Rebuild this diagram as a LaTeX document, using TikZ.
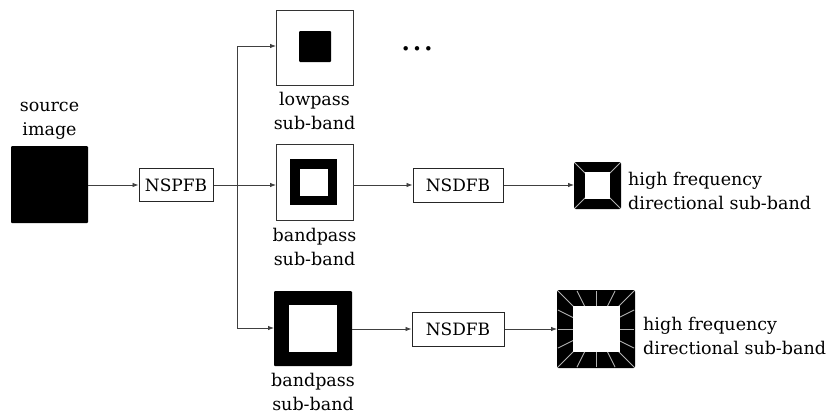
\documentclass[tikz,border=0pt]{standalone}
\usepackage{fontspec}
\setmainfont{DejaVu Serif}
\usetikzlibrary{arrows.meta}
\begin{document}
\begin{tikzpicture}[x=1pt,y=1pt,
  lbl/.style={font=\fontsize{17.5}{23.5}\selectfont, align=center, inner sep=0pt},
  fbox/.style={draw=black!85, line width=1pt, fill=white, minimum height=33pt, font=\fontsize{17}{23}\selectfont, inner sep=0pt},
  arr/.style={draw=black!75, line width=0.8pt, -{Latex[length=6pt,width=4.5pt]}},
  ln/.style={draw=black!75, line width=0.8pt},
  ray/.style={draw=black!30, line width=0.9pt, shorten >=1pt},
  sq/.style={inner sep=0pt, outer sep=0pt}
]
\useasboundingbox (0,0) rectangle (832,-413);

% source image
\node[sq, fill=black, minimum width=77pt, minimum height=77pt, rounded corners=1pt] (src) at (49.5,-184.5) {};
\node[lbl] (srct) at (49.5,-121) {source\\image};

% NSPFB
\node[fbox, minimum width=74pt] (nspfb) at (176,-185) {NSPFB};
\coordinate (br) at (237,-185);
\coordinate (brtop) at (237,-46);
\coordinate (brbot) at (237,-328);

% lowpass
\node[sq, draw=black!80, line width=1pt, minimum width=77pt, minimum height=75pt] (lp) at (314.5,-48) {};
\node[sq, fill=black, minimum width=32pt, minimum height=31pt, rounded corners=1pt] (lpc) at (315,-46.5) {};
\node[lbl] (lpt) at (314.5,-111) {lowpass\\sub-band};
\node[inner sep=0pt, font=\fontsize{34}{34}\selectfont] (dots) at (417,-49) {…};

% middle bandpass
\node[sq, draw=black!80, line width=1pt, minimum width=77pt, minimum height=76pt] (bp1) at (314.5,-182) {};
\node[sq, fill=black, minimum width=47pt, minimum height=46pt] (bp1f) at (313.5,-182) {};
\node[sq, fill=white, minimum width=28pt, minimum height=27pt] (bp1w) at (bp1f.center) {};
\node[lbl] (bp1t) at (314.5,-247) {bandpass\\sub-band};

% NSDFB 1
\node[fbox, minimum width=90pt, minimum height=34pt] (nsd1) at (458,-185) {NSDFB};

% high frequency 1
\node[sq, fill=black, minimum size=47pt, rounded corners=1.5pt] (hf1) at (597.5,-185.5) {};
\foreach \a in {north east, north west, south east, south west}
  \draw[ray] (hf1.center) -- (hf1.\a);
\node[sq, fill=white, minimum width=25pt, minimum height=27pt] (hf1w) at (hf1.center) {};
\node[lbl, align=left, anchor=west] (hf1t) at (628,-191) {high frequency\\directional sub-band};

% bottom bandpass
\node[sq, fill=black, minimum width=78pt, minimum height=75pt, rounded corners=1pt] (bp2) at (313,-328.5) {};
\node[sq, fill=white, minimum width=48pt, minimum height=47pt] (bp2w) at (bp2.center) {};
\node[lbl] (bp2t) at (313,-392) {bandpass\\sub-band};

% NSDFB 2
\node[fbox, minimum width=92pt, minimum height=34pt] (nsd2) at (458,-329) {NSDFB};

% high frequency 2
\node[sq, fill=black, minimum size=78pt, rounded corners=1.5pt] (hf2) at (596,-329) {};
\foreach \dx/\dy in {39/39,19.5/39,0/39,-19.5/39,-39/39,-39/19.5,-39/0,-39/-19.5,-39/-39,-19.5/-39,0/-39,19.5/-39,39/-39,39/-19.5,39/0,39/19.5}
  \draw[ray] (hf2.center) -- ++(\dx,\dy);
\node[sq, fill=white, minimum width=47pt, minimum height=46pt] (hf2w) at (hf2.center) {};
\node[lbl, align=left, anchor=west] (hf2t) at (643,-336) {high frequency\\directional sub-band};

% connectors
\draw[arr] (src.east |- nspfb.west) -- (nspfb.west);
\draw[ln] (nspfb.east) -- (br);
\draw[ln] (brtop) -- (brbot);
\draw[arr] (brtop) -- (lp.west |- brtop);
\draw[arr] (br) -- (bp1.west |- br);
\draw[arr] (brbot) -- (bp2.west |- brbot);
\draw[arr] (bp1.east |- nsd1.west) -- (nsd1.west);
\draw[arr] (nsd1.east) -- (hf1.west |- nsd1.east);
\draw[arr] (bp2.east |- nsd2.west) -- (nsd2.west);
\draw[arr] (nsd2.east) -- (hf2.west |- nsd2.east);
\end{tikzpicture}
\end{document}
